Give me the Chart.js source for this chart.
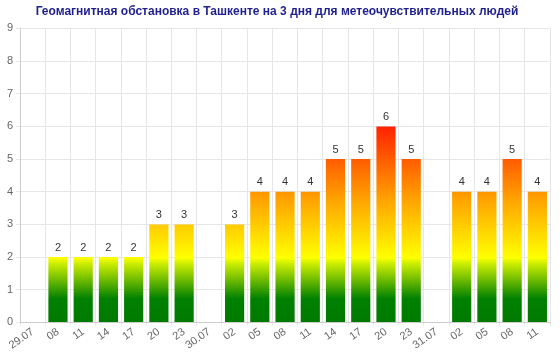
<!DOCTYPE html>
<html>
<head>
<meta charset="utf-8">
<script src="https://cdn.jsdelivr.net/npm/chart.js@4"></script>
<style>
  body { margin: 0; background: #fff; }
  #wrap { width: 560px; height: 352px; }
</style>
</head>
<body>
<div id="wrap"><canvas id="chart" width="560" height="352"></canvas></div>
<script>
const labels = ['29.07', '08', '11', '14', '17', '20', '23', '30.07', '02', '05', '08', '11', '14', '17', '20', '23', '31.07', '02', '05', '08', '11'];
const kpIndex = [null, 2, 2, 2, 2, 3, 3, null, 3, 4, 4, 4, 5, 5, 6, 5, null, 4, 4, 5, 4];
const yTicks = [0, 1, 2, 3, 4, 5, 6, 7, 8, 9];

function barGradient(context) {
    const chart = context.chart;
    const area = chart.chartArea;
    if (!area) return '#008000';
    const y = chart.scales.y;
    const y0 = y.getPixelForValue(0);
    const y6 = y.getPixelForValue(6);
    const g = chart.ctx.createLinearGradient(0, y0, 0, y6);
    g.addColorStop(0, '#007a00');
    g.addColorStop(0.12, '#008000');
    g.addColorStop(0.3, '#ccee00');
    g.addColorStop(0.33, '#ffff00');
    g.addColorStop(0.62, '#ffa500');
    g.addColorStop(1, '#ff2200');
    return g;
}

// values above bars
const valueLabels = {
    id: 'valueLabels',
    afterDatasetsDraw(chart) {
        const ctx = chart.ctx;
        const meta = chart.getDatasetMeta(0);
        ctx.save();
        ctx.font = '11px Arial, "Liberation Sans", sans-serif';
        ctx.fillStyle = '#333';
        ctx.textAlign = 'center';
        ctx.textBaseline = 'bottom';
        meta.data.forEach((bar, i) => {
            const v = kpIndex[i];
            if (v === null) return;
            ctx.fillText(String(v), bar.x, bar.y - 4);
        });
        ctx.restore();
    }
};

const chart = new Chart(document.getElementById('chart'), {
    type: 'bar',
    data: {
        labels: labels,
        datasets: [{
            data: kpIndex,
            backgroundColor: barGradient,
            borderWidth: 0,
            barPercentage: 0.95,
            categoryPercentage: 0.8
        }]
    },
    options: {
        responsive: false,
        animation: false,
        layout: { padding: { left: 4, right: 10, top: 0, bottom: 0 } },
        plugins: {
            legend: { display: false },
            tooltip: { enabled: false },
            title: {
                display: true,
                text: 'Геомагнитная обстановка в Ташкенте на 3 дня для метеочувствительных людей',
                color: '#1f1f8f',
                font: { family: 'Arial, "Liberation Sans", sans-serif', size: 12, weight: 'bold' },
                padding: { top: 4, bottom: 10 }
            }
        },
        scales: {
            x: {
                grid: { color: '#e6e6e6', drawTicks: true, tickLength: 3 },
                border: { color: '#cccccc' },
                ticks: {
                    color: '#666',
                    font: { family: 'Arial, "Liberation Sans", sans-serif', size: 11 },
                    minRotation: 35,
                    maxRotation: 35,
                    autoSkip: false,
                    padding: 0
                }
            },
            y: {
                min: 0,
                max: 9,
                grid: { color: '#e6e6e6', tickLength: 4 },
                border: { color: '#cccccc' },
                afterBuildTicks(scale) {
                    scale.ticks = yTicks.map(v => ({ value: v }));
                },
                ticks: {
                    color: '#666',
                    font: { family: 'Arial, "Liberation Sans", sans-serif', size: 11 },
                    padding: 3
                }
            }
        }
    },
    plugins: [valueLabels]
});
</script>
</body>
</html>
